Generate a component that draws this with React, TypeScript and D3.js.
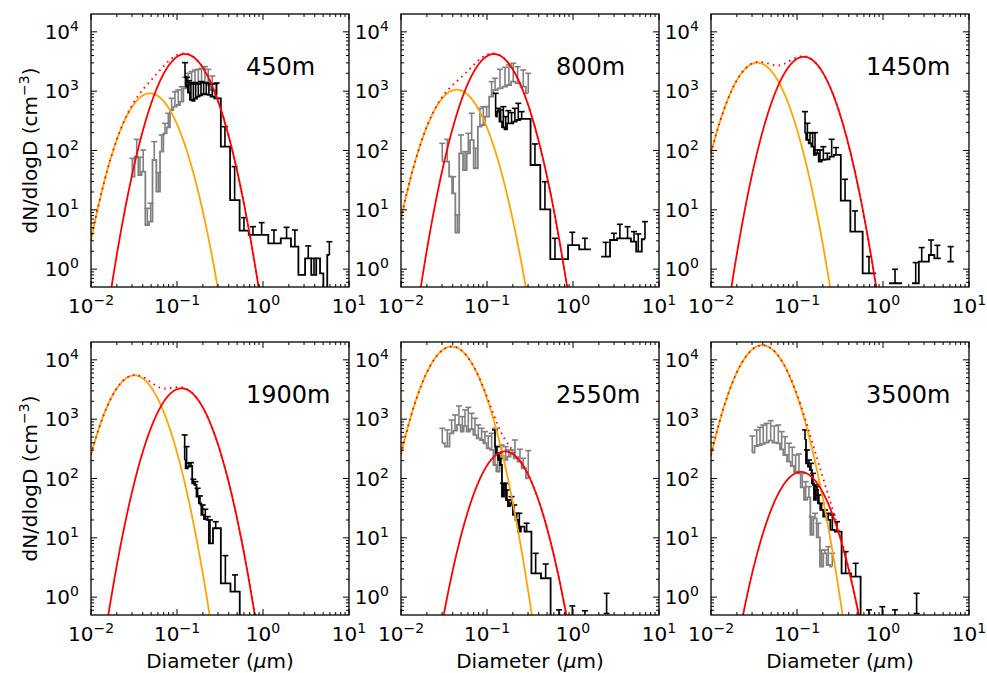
import React from 'react';
import * as d3 from 'd3';

type Row = (number | null)[];

const altitudes = ['450m', '800m', '1450m', '1900m', '2550m', '3500m'];

// lognormal modes: median diameter (um), peak dN/dlogD (cm-3), log10(sigma)
const aitkenDg = [0.0485, 0.0445, 0.0345, 0.0319, 0.0389, 0.0395];
const aitkenPeak = [920, 1060, 3020, 5470, 16800, 17650];
const aitkenWidth = [0.203, 0.205, 0.203, 0.203, 0.204, 0.204];
const accumDg = [0.124, 0.1205, 0.12, 0.113, 0.162, 0.111];
const accumPeak = [4230, 4230, 3800, 3310, 286, 129];
const accumWidth = [0.201, 0.2, 0.199, 0.203, 0.2, 0.202];

// [diameter, dN/dlogD, upper error end, (lower error end)]
const grey450: Row[] = [
  [0.0302, 36.2, 73.8], [0.034, 78.7, 154], [0.0371, 38.6, 76.7], [0.0405, 44.0, 102],
  [0.0452, 5.55, 10.6], [0.0494, 6.32, 12.9], [0.0544, 69.2, 141], [0.0606, 20.2, 42.4],
  [0.0663, 95.7, 183], [0.0725, 195, 287], [0.0792, 246, 424], [0.0866, 482, 758],
  [0.0946, 548, 982], [0.1035, 585, 1047], [0.113, 666, 1191], [0.124, 1117, 1714],
  [0.135, 1271, 2000], [0.148, 1357, 2134], [0.162, 1393, 2277], [0.177, 1357, 2336],
  [0.193, 1448, 2427], [0.211, 1393, 2590], [0.231, 1271, 2336], [0.257, 1047, 1803],
  [0.292, 864, 1393],
];
const black450: Row[] = [
  [0.124, 1758, 3027], [0.1306, 1191, 1714], [0.1377, 944, 1503], [0.1452, 711, 1393],
  [0.1549, 684, 1322], [0.1648, 749, 1393], [0.177, 809, 1322], [0.19, 851, 1448],
  [0.204, 897, 1393], [0.219, 885, 1393], [0.235, 864, 1357], [0.257, 809, 1322],
  [0.286, 758, 1357], [0.361, 116, 252], [0.468, 14.6, 53.5], [0.601, 4.45, 7.38],
  [0.764, 3.77, 5.2], [0.964, 3.77, 6.08], [1.34, 2.72, 4.57], [1.88, 3.31, 5.07],
  [2.35, 2.39, 4.57], [2.81, 0.8, 0.8], [3.36, 1.52, 2.46], [3.92, 0.8, 1.52],
  [4.4, 1.52, 1.52], [4.81, 0.85, 0.85], [5.26, 0.475, 0.475], [5.91, 1.73, 2.9],
];
const grey800: Row[] = [
  [0.0302, 64.9, 132], [0.0345, 64.9, 154], [0.0381, 36.2, 36.2], [0.0405, 19.0, 36.2],
  [0.0452, 4.12, 8.18], [0.0498, 89.7, 183], [0.0555, 46.9, 95.7], [0.0606, 89.7, 195],
  [0.0663, 150, 424], [0.0738, 50.1, 109], [0.0828, 252, 514], [0.0906, 269, 548],
  [0.099, 372, 548], [0.113, 809, 1448], [0.124, 1047, 1648], [0.1415, 1117, 2336],
  [0.162, 1191, 2523], [0.18, 1271, 2767], [0.202, 1448, 2953], [0.227, 1357, 2590],
  [0.264, 1191, 2277], [0.302, 920, 2000],
];
const black800: Row[] = [
  [0.126, 372, 920], [0.135, 452, 514], [0.1442, 306, 482], [0.1549, 246, 548],
  [0.1648, 228, 372], [0.177, 287, 470], [0.193, 287, 435], [0.211, 306, 514],
  [0.231, 327, 624], [0.253, 340, 452], [0.281, 340, 340], [0.361, 57.0, 129],
  [0.472, 10.2, 29.8], [0.617, 1.47, 3.31], [0.77, 1.47, 1.47], [0.982, 2.55, 4.18],
  [1.377, 2.16, 3.31], [1.85, null, null], [2.4, 1.63, 2.83], [2.99, 3.1, 4.02],
  [3.51, 3.31, 5.7], [4.31, 3.31, 5.2], [5.12, 2.9, 4.29], [5.74, 1.97, 3.92],
  [6.87, 3.19, 6.32],
];
const black1450: Row[] = [
  [0.124, 195, 452], [0.132, 151, 288], [0.1416, 132, 200], [0.152, 116, 195],
  [0.162, 84.1, 200], [0.1724, 89.8, 102], [0.1852, 65.0, 102], [0.2025, 69.3, 116],
  [0.2254, 71.1, 89.8], [0.253, 78.9, 154.5], [0.284, 84.1, 112], [0.362, 14.3, 32.7],
  [0.473, 4.29, 9.58], [0.687, 0.851, 1.63], [0.97, null, null], [1.38, 0.578, 0.995],
  [1.95, null, null], [2.4, 0.578, 1.29], [2.82, 1.34, 2.31], [3.22, 1.34, 1.34],
  [3.62, 1.73, 3.1], [4.29, 1.52, 2.52], [5.1, null, null], [6.12, 1.34, 2.4],
  [7.2, null, null],
];
const black1900: Row[] = [
  [0.1228, 206, 542], [0.1294, 149, 345], [0.138, 159, 181], [0.1455, 163, 185],
  [0.155, 83, 97], [0.1633, 77.9, 88.5], [0.1738, 49.5, 68.4], [0.185, 38.2, 50.8],
  [0.1988, 24.3, 35.8], [0.2134, 20.6, 30.3], [0.2274, 20.0, 22.8], [0.242, 8.09, 20.0],
  [0.282, 14.5, 18.7], [0.365, 1.71, 5.01], [0.472, 1.24, 2.37], [0.601, 0.11, 0.11],
];
const grey2550: Row[] = [
  [0.0302, 393, 702], [0.0345, 345, 658], [0.0388, 578, 970], [0.0425, 641, 1178],
  [0.0472, 799, 1671], [0.0516, 617, 1104], [0.0555, 769, 1430], [0.0606, 617, 1585],
  [0.0663, 676, 1256], [0.0725, 542, 1035], [0.0792, 476, 799], [0.0866, 446, 702],
  [0.0946, 393, 617], [0.1035, 323, 521], [0.1132, 303, 578], [0.1238, 169, 702],
  [0.133, 131, 266], [0.148, 240, 367], [0.1648, 206, 345], [0.18, 234, 303],
  [0.197, 266, 303], [0.2113, 219, 446], [0.2415, 193, 311], [0.264, 149, 219],
  [0.302, 101, 295],
];
const black2550: Row[] = [
  [0.1238, 345, 658], [0.1306, 266, 345], [0.1377, 206, 266], [0.1452, 169, 219],
  [0.1534, 49.4, 83], [0.1618, 77.8, 83], [0.1706, 43.5, 64.1], [0.18, 34.4, 43.5],
  [0.193, 38.2, 49.4], [0.2075, 24.3, 35.8], [0.2213, 20.0, 25.9], [0.2377, 12.7, 25.9],
  [0.2575, 15.5, 15.5], [0.289, 12.7, 17.6], [0.368, 2.52, 5.48], [0.481, 2.08, 3.62],
  [0.617, 0.36, 0.36], [0.687, 0.36, 0.61], [0.807, 0.36, 0.36], [0.982, 0.36, 0.71],
  [1.153, 0.36, 0.36], [1.377, 0.36, 0.59], [1.8, 0.36, 0.36], [2.46, 0.36, 1.16, 0.53],
];
const grey3500: Row[] = [
  [0.0302, 273, 521], [0.034, 353, 658], [0.0371, 367, 730], [0.0405, 382, 798],
  [0.0444, 402, 851], [0.0494, 434, 944], [0.0544, 402, 767], [0.0606, 392, 798],
  [0.0663, 310, 617], [0.0725, 249, 507], [0.0807, 192, 392], [0.0882, 162.5, 336],
  [0.0964, 130, 249], [0.1054, 122, 259], [0.1153, 71, 122], [0.126, 43.5, 88.5],
  [0.1377, 48.2, 72.9], [0.148, 11.2, 22.7], [0.162, 21.3, 25.9], [0.177, 10.2, 17.6],
  [0.193, 3.27, 6.24], [0.211, 5.48, 6.24], [0.231, 3.48, 7.1], [0.257, 3.27, 5.48],
];
const black3500: Row[] = [
  [0.124, 446, 658], [0.1306, 180, 303], [0.1377, 158, 205], [0.1452, 139, 180],
  [0.1534, 83, 122], [0.1618, 43.5, 77.8], [0.1706, 64, 72.9], [0.18, 38.2, 52.7],
  [0.193, 29.5, 38.2], [0.211, 22.7, 29.5], [0.231, 20.0, 25.9], [0.2575, 13.6, 24.3],
  [0.292, 12.7, 18.7], [0.368, 2.52, 5.85], [0.481, 2.22, 3.72], [0.617, 0.36, 0.36],
  [0.687, 0.36, 0.61], [0.807, 0.36, 0.36], [0.982, 0.36, 0.69], [1.153, 0.36, 0.36],
  [1.377, 0.36, 0.61], [1.8, 0.36, 0.36], [2.46, 0.36, 1.16, 0.53],
];

const greySeries: (Row[] | null)[] = [grey450, grey800, null, null, grey2550, grey3500];
const blackSeries: Row[][] = [black450, black800, black1450, black1900, black2550, black3500];

const xTickExps = [-2, -1, 0, 1];
const yTickExps = [0, 1, 2, 3, 4];

const W = 258;
const H = 273;
const lefts = [91, 401, 711];
const tops = [14, 342];
const FONT = 'DejaVu Sans';

function mode(D: number, dg: number, peak: number, s: number) {
  const l = Math.log10(D / dg);
  return peak * Math.exp(-(l * l) / (2 * s * s));
}

function stepPath(rows: Row[], x: (v: number) => number, y: (v: number) => number) {
  let d = '';
  let prev = false;
  const n = rows.length;
  for (let i = 0; i < n; i++) {
    const r = rows[i];
    if (r[1] == null) {
      prev = false;
      continue;
    }
    const D = r[0] as number;
    const left = i === 0 ? D : ((rows[i - 1][0] as number) + D) / 2;
    const right = i === n - 1 ? D : (D + (rows[i + 1][0] as number)) / 2;
    const yy = y(r[1] as number);
    d += `${prev ? 'L' : 'M'}${x(left)},${yy}L${x(right)},${yy}`;
    prev = true;
  }
  return d;
}

function ErrorBars({ rows, x, y, color }: { rows: Row[]; x: any; y: any; color: string }) {
  return (
    <g stroke={color} strokeWidth={1.6} fill="none">
      {rows.map((r, i) => {
        if (r[1] == null || r[2] == null) return null;
        const up = r[2] as number;
        const lo = r.length > 3 && r[3] != null ? (r[3] as number) : (r[1] as number);
        if (up <= (r[1] as number) && r.length <= 3) return null;
        const cx = x(r[0]);
        const y1 = y(lo);
        const y2 = y(up);
        return (
          <g key={i}>
            <line x1={cx} x2={cx} y1={y1} y2={y2} />
            <line x1={cx - 3} x2={cx + 3} y1={y2} y2={y2} />
            {r.length > 3 ? <line x1={cx - 3} x2={cx + 3} y1={y1} y2={y1} /> : null}
          </g>
        );
      })}
    </g>
  );
}

function Panel({ idx }: { idx: number }) {
  const left = lefts[idx % 3];
  const top = tops[Math.floor(idx / 3)];
  const x = d3.scaleLog().domain([0.01, 10]).range([0, W]);
  const y = d3.scaleLog().domain([0.5, 2e4]).range([H, 0]);
  const samples = d3.range(0, 601).map((i) => Math.pow(10, -2 + (3 * i) / 600));
  const fa = (D: number) => mode(D, aitkenDg[idx], aitkenPeak[idx], aitkenWidth[idx]);
  const fb = (D: number) => mode(D, accumDg[idx], accumPeak[idx], accumWidth[idx]);
  const yc = (v: number) => y(Math.max(v, 1e-3));
  const line = (f: (D: number) => number) =>
    d3.line<number>().x((d) => x(d)).y((d) => yc(f(d)))(samples) || '';
  const clipId = `clip${idx}`;
  const grey = greySeries[idx];
  const black = blackSeries[idx];

  const xMinor: number[] = [];
  for (let k = -2; k <= 0; k++) for (let m = 2; m <= 9; m++) xMinor.push(m * Math.pow(10, k));
  const yMinor: number[] = [0.6, 0.7, 0.8, 0.9];
  for (let k = 0; k <= 3; k++) for (let m = 2; m <= 9; m++) yMinor.push(m * Math.pow(10, k));

  const majorLen = 6;
  const minorLen = 3;

  return (
    <g transform={`translate(${left},${top})`}>
      <defs>
        <clipPath id={clipId}>
          <rect x={0} y={0} width={W} height={H} />
        </clipPath>
      </defs>
      <g clipPath={`url(#${clipId})`}>
        {grey ? (
          <g>
            <path d={stepPath(grey, x, y)} fill="none" stroke="#808080" strokeWidth={1.8} />
            <ErrorBars rows={grey} x={x} y={y} color="#808080" />
          </g>
        ) : null}
        <path d={stepPath(black, x, y)} fill="none" stroke="#000" strokeWidth={1.8} />
        <ErrorBars rows={black} x={x} y={y} color="#000" />
        <path d={line(fa)} fill="none" stroke="#ffa500" strokeWidth={1.8} />
        <path d={line(fb)} fill="none" stroke="#ff0000" strokeWidth={1.8} />
        <path
          d={line((D) => fa(D) + fb(D))}
          fill="none"
          stroke="#ff0000"
          strokeWidth={1.8}
          strokeDasharray="1.6 4.2"
        />
      </g>
      <g stroke="#000" strokeWidth={1}>
        {xTickExps.map((e) => {
          const px = x(Math.pow(10, e));
          return (
            <g key={'xt' + e}>
              <line x1={px} x2={px} y1={H} y2={H - majorLen} />
              <line x1={px} x2={px} y1={0} y2={majorLen} />
            </g>
          );
        })}
        {xMinor.map((v, i) => {
          const px = x(v);
          return (
            <g key={'xm' + i}>
              <line x1={px} x2={px} y1={H} y2={H - minorLen} />
              <line x1={px} x2={px} y1={0} y2={minorLen} />
            </g>
          );
        })}
        {yTickExps.map((e) => {
          const py = y(Math.pow(10, e));
          return (
            <g key={'yt' + e}>
              <line x1={0} x2={majorLen} y1={py} y2={py} />
              <line x1={W} x2={W - majorLen} y1={py} y2={py} />
            </g>
          );
        })}
        {yMinor.map((v, i) => {
          const py = y(v);
          return (
            <g key={'ym' + i}>
              <line x1={0} x2={minorLen} y1={py} y2={py} />
              <line x1={W} x2={W - minorLen} y1={py} y2={py} />
            </g>
          );
        })}
      </g>
      <rect x={0} y={0} width={W} height={H} fill="none" stroke="#000" strokeWidth={1.3} />
      {xTickExps.map((e) => (
        <text key={'xl' + e} x={x(Math.pow(10, e))} y={H + 26} textAnchor="middle" fontFamily={FONT} fontSize={20} fill="#000">
          <tspan>10</tspan>
          <tspan fontSize={14} dy={-8}>{e < 0 ? '\u2212' + Math.abs(e) : String(e)}</tspan>
        </text>
      ))}
      {yTickExps.map((e) => (
        <text key={'yl' + e} x={-12} y={y(Math.pow(10, e)) + 7} textAnchor="end" fontFamily={FONT} fontSize={20} fill="#000">
          <tspan>10</tspan>
          <tspan fontSize={14} dy={-8}>{String(e)}</tspan>
        </text>
      ))}
      <text x={155} y={61} fontFamily={FONT} fontSize={24} fill="#000">
        {altitudes[idx]}
      </text>
    </g>
  );
}

export default function App() {
  return (
    <svg width={987} height={673} style={{ position: 'absolute', left: 0, top: 0, background: '#fff' }}>
      <rect x={0} y={0} width={987} height={673} fill="#fff" />
      {[0, 1, 2, 3, 4, 5].map((i) => (
        <Panel key={i} idx={i} />
      ))}
      {tops.map((t, r) => (
        <text key={'ylab' + r} transform={`translate(37,${t + H / 2}) rotate(-90)`} textAnchor="middle" fontFamily={FONT} fontSize={20} fill="#000">
          <tspan>dN/dlogD (cm</tspan>
          <tspan fontSize={14} dy={-8}>{'\u22123'}</tspan>
          <tspan dy={8}>)</tspan>
        </text>
      ))}
      {lefts.map((l, c) => (
        <text key={'xlab' + c} x={l + W / 2} y={668} textAnchor="middle" fontFamily={FONT} fontSize={20} fill="#000">
          <tspan>Diameter (</tspan>
          <tspan fontStyle="italic">{'\u03bc'}</tspan>
          <tspan>m)</tspan>
        </text>
      ))}
    </svg>
  );
}
